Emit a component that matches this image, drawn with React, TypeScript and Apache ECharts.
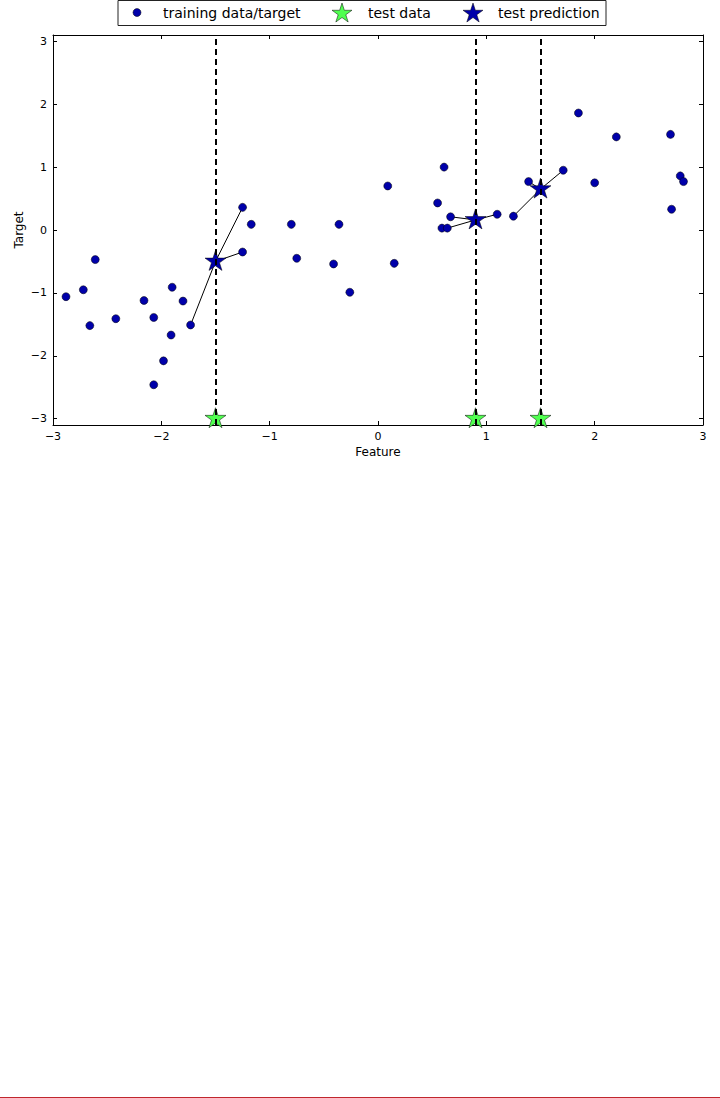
import React, { useEffect, useRef } from "react";
import * as echarts from "echarts";

const trainX = [-2.88, -2.72, -2.61, -2.66, -2.42, -2.16, -2.07, -2.07, -1.98, -1.91, -1.90, -1.80, -1.73, -1.25, -0.75, -0.41, -0.26, -1.25, -1.17, -0.80, -0.36, 0.09, 0.15, 0.61, 0.55, 0.67, 0.59, 0.64, 1.10, 1.25, 1.39, 1.71, 1.85, 2.0, 2.20, 2.70, 2.71, 2.79, 2.82];
const trainY = [-1.06, -0.95, -0.47, -1.52, -1.41, -1.12, -1.39, -2.46, -2.08, -1.67, -0.91, -1.13, -1.51, -0.35, -0.45, -0.54, -0.99, 0.36, 0.09, 0.09, 0.09, 0.70, -0.53, 1.0, 0.43, 0.21, 0.03, 0.03, 0.25, 0.22, 0.77, 0.95, 1.86, 0.75, 1.48, 1.52, 0.33, 0.86, 0.77];
const testX = [-1.5, 0.9, 1.5];
const testY = [-3, -3, -3];
const predY = [-0.5, 0.16, 0.65];
const nNeighbors = 3;
const xTicks = [-3, -2, -1, 0, 1, 2, 3];
const yTicks = [-3, -2, -1, 0, 1, 2, 3];
const legendLabels = ["training data/target", "test data", "test prediction"];

const BLUE = "#0000aa";
const GREEN = "#50ff50";
const FONT = "DejaVu Sans";

function starPoints(cx: number, cy: number, R: number): number[][] {
  const pts: number[][] = [];
  for (let k = 0; k < 10; k++) {
    const r = k % 2 === 0 ? R : R * 0.381966;
    const a = -Math.PI / 2 + (k * Math.PI) / 5;
    pts.push([cx + r * Math.cos(a), cy + r * Math.sin(a)]);
  }
  return pts;
}
const starPath =
  "path://M" +
  starPoints(0, 0, 100)
    .map((p) => p[0].toFixed(2) + "," + p[1].toFixed(2))
    .join("L") +
  "Z";

const fmt = (v: number) => (v < 0 ? "\u2212" + Math.abs(v) : String(v));

export default function App() {
  const ref = useRef<HTMLDivElement>(null);
  useEffect(() => {
    if (!ref.current) return;
    const chart = echarts.init(ref.current, null, { renderer: "svg" });

    const trainData = trainX.map((x, i) => [x, trainY[i]]);
    const neighborLines: any[] = [];
    testX.forEach((tx, ti) => {
      const idx = trainX
        .map((x, i) => ({ i, d: Math.abs(x - tx) }))
        .sort((a, b) => a.d - b.d)
        .slice(0, nNeighbors);
      idx.forEach(({ i }) => {
        neighborLines.push({ coords: [[tx, predY[ti]], [trainX[i], trainY[i]]] });
      });
    });
    const vLines = testX.map((x) => ({ coords: [[x, -3.1], [x, 3.1]] }));

    const axisCommon = {
      axisLine: { show: true, onZero: false, lineStyle: { color: "#000", width: 1 } },
      splitLine: { show: false },
    };

    const legendY = 12.5;
    const legendFont = `14px "${FONT}"`;
    const graphic: any[] = [
      {
        type: "rect",
        shape: { x: 118, y: 0.5, width: 488, height: 25 },
        style: { fill: "#fff", stroke: "#222", lineWidth: 1 },
        z: 100,
      },
      {
        type: "circle",
        shape: { cx: 137, cy: legendY, r: 4 },
        style: { fill: BLUE, stroke: "#000", lineWidth: 0.5 },
        z: 101,
      },
      {
        type: "text",
        x: 163,
        y: legendY,
        style: { text: legendLabels[0], font: legendFont, fill: "#000", verticalAlign: "middle" },
        z: 101,
      },
      {
        type: "polygon",
        shape: { points: starPoints(342, legendY + 1, 10.5) },
        style: { fill: GREEN, stroke: "#000", lineWidth: 0.5 },
        z: 101,
      },
      {
        type: "text",
        x: 368,
        y: legendY,
        style: { text: legendLabels[1], font: legendFont, fill: "#000", verticalAlign: "middle" },
        z: 101,
      },
      {
        type: "polygon",
        shape: { points: starPoints(473, legendY + 1, 10.5) },
        style: { fill: BLUE, stroke: "#000", lineWidth: 0.5 },
        z: 101,
      },
      {
        type: "text",
        x: 498,
        y: legendY,
        style: { text: legendLabels[2], font: legendFont, fill: "#000", verticalAlign: "middle" },
        z: 101,
      },
      {
        type: "rect",
        shape: { x: 0, y: 1097, width: 720, height: 1 },
        style: { fill: "#c0272d" },
        z: 101,
      },
    ];

    chart.setOption({
      animation: false,
      backgroundColor: "#fff",
      textStyle: { fontFamily: FONT },
      grid: { left: 53, right: 17, top: 35, bottom: 673, containLabel: false },
      xAxis: [
        {
          type: "value",
          min: -3,
          max: 3,
          interval: 1,
          position: "bottom",
          ...axisCommon,
          axisTick: { show: true, inside: true, length: 4, lineStyle: { color: "#000" } },
          axisLabel: { show: true, color: "#000", fontSize: 11, margin: 6, fontFamily: FONT, formatter: fmt },
          name: "Feature",
          nameLocation: "middle",
          nameGap: 21,
          nameTextStyle: { color: "#000", fontSize: 12, fontFamily: FONT },
        },
        {
          type: "value",
          min: -3,
          max: 3,
          interval: 1,
          position: "top",
          ...axisCommon,
          axisTick: { show: true, inside: true, length: 4, lineStyle: { color: "#000" } },
          axisLabel: { show: false },
        },
      ],
      yAxis: [
        {
          type: "value",
          min: -3.1,
          max: 3.1,
          position: "left",
          ...axisCommon,
          axisTick: { show: true, inside: true, length: 4, customValues: yTicks, lineStyle: { color: "#000" } },
          axisLabel: { show: true, color: "#000", fontSize: 11, margin: 6, fontFamily: FONT, customValues: yTicks, formatter: fmt },
          name: "Target",
          nameLocation: "middle",
          nameGap: 28,
          nameRotate: 90,
          nameMoveOverlap: false,
          nameTextStyle: { color: "#000", fontSize: 12, fontFamily: FONT },
        },
        {
          type: "value",
          min: -3.1,
          max: 3.1,
          position: "right",
          ...axisCommon,
          axisTick: { show: true, inside: true, length: 4, customValues: yTicks, lineStyle: { color: "#000" } },
          axisLabel: { show: false, customValues: yTicks },
        },
      ],
      series: [
        {
          type: "lines",
          coordinateSystem: "cartesian2d",
          data: neighborLines,
          lineStyle: { color: "#000", width: 1, opacity: 1 },
          z: 2,
          silent: true,
        },
        {
          type: "scatter",
          name: legendLabels[0],
          data: trainData,
          symbol: "circle",
          symbolSize: 8,
          itemStyle: { color: BLUE, borderColor: "#000", borderWidth: 0.5, opacity: 1 },
          z: 3,
        },
        {
          type: "scatter",
          name: legendLabels[1],
          data: testX.map((x, i) => [x, testY[i]]),
          symbol: starPath,
          symbolSize: 21,
          symbolKeepAspect: true,
          symbolOffset: [0, -1],
          itemStyle: { color: GREEN, borderColor: "#000", borderWidth: 0.5, opacity: 1 },
          z: 4,
        },
        {
          type: "scatter",
          name: legendLabels[2],
          data: testX.map((x, i) => [x, predY[i]]),
          symbol: starPath,
          symbolSize: 21,
          symbolKeepAspect: true,
          symbolOffset: [0, -1],
          itemStyle: { color: BLUE, borderColor: "#000", borderWidth: 0.5, opacity: 1 },
          z: 4,
        },
        {
          type: "lines",
          coordinateSystem: "cartesian2d",
          data: vLines,
          lineStyle: { color: "#000", width: 2, type: [6, 4], opacity: 1 },
          z: 5,
          silent: true,
        },
      ],
      graphic,
    });
    return () => chart.dispose();
  }, []);
  return (
    <div
      ref={ref}
      style={{ position: "absolute", left: 0, top: 0, width: 720, height: 1098, background: "#fff" }}
    />
  );
}
